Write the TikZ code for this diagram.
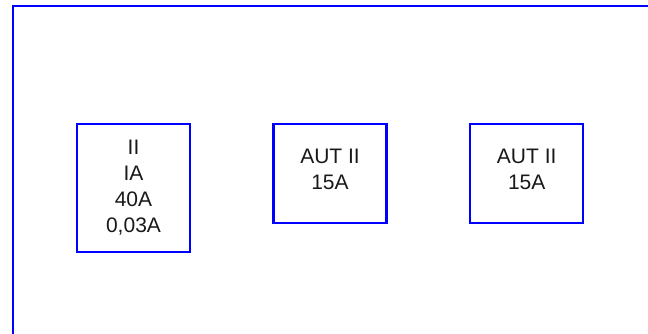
\documentclass[tikz,border=0pt]{standalone}
\usepackage{fontspec}
\setmainfont{Liberation Sans}
\begin{document}
\begin{tikzpicture}[x=1pt,y=-1pt,
  frameline/.style={draw=blue, line width=2.2pt},
  box/.style={draw=blue, line width=2.2pt, rectangle, inner sep=0pt},
  txt/.style={font=\fontsize{21}{26}\selectfont, align=center, inner sep=0pt, text=black!90}]
\useasboundingbox (0,0) rectangle (648,333);
\clip (0,0) rectangle (648,333);
\fill[white] (0,0) rectangle (648,333);
\coordinate (fbl) at (13,340);
\coordinate (ftl) at (13,6);
\coordinate (ftr) at (660,6);
\draw[frameline] (fbl) -- (ftl) -- (ftr);
\node[box, minimum width=113pt, minimum height=128pt] (b1) at (133.5,188) {};
\node[box, minimum width=113pt, minimum height=99pt] (b2) at (330,173.4) {};
\node[box, minimum width=113pt, minimum height=99pt] (b3) at (526.7,173.4) {};
\node[txt] (t1) at (133.5,187.5) {II\\IA\\40A\\0,03A};
\node[txt] (t2) at (330,169.5) {AUT II\\15A};
\node[txt] (t3) at (526.7,169.5) {AUT II\\15A};
\end{tikzpicture}
\end{document}
